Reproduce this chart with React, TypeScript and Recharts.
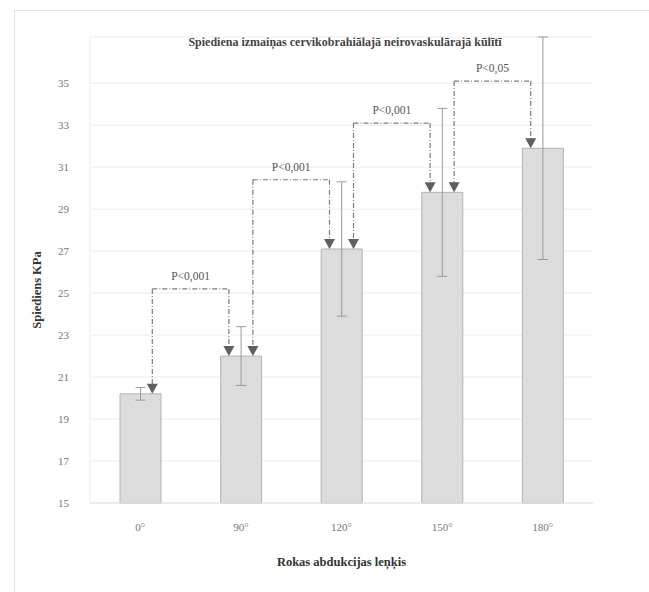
import React from 'react';
import { BarChart, Bar, XAxis, YAxis, CartesianGrid, ErrorBar, ReferenceLine } from 'recharts';

const categories = ['0°', '90°', '120°', '150°', '180°'];
const means = [20.2, 22.0, 27.1, 29.8, 31.9];
const errors = [0.3, 1.4, 3.2, 4.0, 5.3];
const yTicks = [15, 17, 19, 21, 23, 25, 27, 29, 31, 33, 35];
const pLabels = ['P<0,001', 'P<0,001', 'P<0,001', 'P<0,05'];
const bracketLevels = [25.2, 30.4, 33.1, 35.1];

const data = categories.map((c, i) => ({ cat: c, mean: means[i], err: errors[i] }));

const DX = 12;
const LINE = '#7c7c7c';
const SERIF = "'Liberation Serif', 'DejaVu Serif', serif";

const bad = (a: any[]) => a.some((v) => v == null || Number.isNaN(v));

const makeArrow = (dx: number) => (props: any) => {
  const { x1, y1, x2, y2 } = props;
  if (bad([x1, y1, x2, y2])) return null;
  const h = 10;
  const w = 5.5;
  const x = x1 + dx;
  return (
    <g>
      <line x1={x} y1={y1} x2={x} y2={y2 - h + 1} stroke={LINE} strokeWidth={1.2} strokeDasharray="5 2 1 2" />
      <polygon points={`${x - w},${y2 - h} ${x + w},${y2 - h} ${x},${y2}`} fill="#5f5f5f" />
    </g>
  );
};

const makeHShape = (label: string) => (props: any) => {
  const { x1, y1, x2, y2 } = props;
  if (bad([x1, y1, x2, y2])) return null;
  const a = x1 + DX;
  const b = x2 - DX;
  return (
    <g>
      <line x1={a} y1={y1} x2={b} y2={y2} stroke={LINE} strokeWidth={1.2} strokeDasharray="5 2 1 2" />
      <text
        x={(a + b) / 2}
        y={y1 - 9}
        textAnchor="middle"
        fontFamily="Liberation Serif"
        fontSize={11.5}
        fill="#555"
      >
        {label}
      </text>
    </g>
  );
};

export default function App() {
  const brackets = pLabels.map((lbl, i) => {
    const cl = categories[i];
    const cr = categories[i + 1];
    const lvl = bracketLevels[i];
    return (
      <React.Fragment key={i}>
        <ReferenceLine
          segment={[{ x: cl, y: lvl }, { x: cr, y: lvl }]}
          shape={makeHShape(lbl)}
          ifOverflow="visible"
        />
        <ReferenceLine
          segment={[{ x: cl, y: lvl }, { x: cl, y: means[i] }]}
          shape={makeArrow(DX)}
          ifOverflow="visible"
        />
        <ReferenceLine
          segment={[{ x: cr, y: lvl }, { x: cr, y: means[i + 1] }]}
          shape={makeArrow(-DX)}
          ifOverflow="visible"
        />
      </React.Fragment>
    );
  });

  return (
    <div
      style={{
        position: 'absolute',
        left: 0,
        top: 0,
        width: 649,
        height: 592,
        background: '#fff',
        fontFamily: SERIF,
      }}
    >
      <div
        style={{
          position: 'absolute',
          left: 14,
          top: 10,
          width: 640,
          height: 600,
          border: '1px solid #e4e4e4',
          boxSizing: 'border-box',
        }}
      />
      <div
        style={{
          position: 'absolute',
          left: 0,
          width: 690,
          top: 34,
          textAlign: 'center',
          fontFamily: SERIF,
          fontWeight: 'bold',
          fontSize: 12,
          color: '#444',
          lineHeight: '16px',
        }}
      >
        Spiediena izmaiņas cervikobrahiālajā neirovaskulārajā kūlītī
      </div>
      <BarChart
        width={649}
        height={592}
        data={data}
        margin={{ top: 37, right: 56, bottom: 59, left: 30 }}
        style={{ position: 'absolute', left: 0, top: 0, fontFamily: SERIF }}
      >
        <CartesianGrid vertical={false} stroke="#ececec" />
        <XAxis
          dataKey="cat"
          height={30}
          tickLine={false}
          axisLine={{ stroke: '#e2e2e2' }}
          tick={{ fontSize: 11, fill: '#777', fontFamily: 'Liberation Serif' }}
          tickMargin={14}
          label={{
            content: (p: any) => {
              const vb = p.viewBox || {};
              return (
                <text
                  x={vb.x + vb.width / 2}
                  y={vb.y + 63}
                  textAnchor="middle"
                  fontFamily="Liberation Serif"
                  fontWeight="bold"
                  fontSize={12.5}
                  fill="#333"
                >
                  Rokas abdukcijas leņķis
                </text>
              );
            },
          }}
        />
        <YAxis
          width={60}
          domain={[15, 37.2]}
          ticks={yTicks}
          interval={0}
          tickLine={false}
          axisLine={{ stroke: '#ececec' }}
          tick={{ fontSize: 11, fill: '#777', fontFamily: 'Liberation Serif' }}
          tickMargin={15}
          label={{
            content: (p: any) => {
              const vb = p.viewBox || {};
              const cx = vb.x + 7;
              const cy = vb.y + 253;
              return (
                <text
                  x={cx}
                  y={cy}
                  transform={`rotate(-90 ${cx} ${cy})`}
                  textAnchor="middle"
                  dominantBaseline="central"
                  fontFamily="Liberation Serif"
                  fontWeight="bold"
                  fontSize={12.5}
                  fill="#333"
                >
                  Spiediens KPa
                </text>
              );
            },
          }}
        />
        <Bar dataKey="mean" fill="#dcdcdc" stroke="#b3b3b3" strokeWidth={1} barSize={41} isAnimationActive={false}>
          <ErrorBar dataKey="err" width={5} stroke="#9a9a9a" strokeWidth={1} direction="y" />
        </Bar>
        {brackets}
      </BarChart>
    </div>
  );
}
